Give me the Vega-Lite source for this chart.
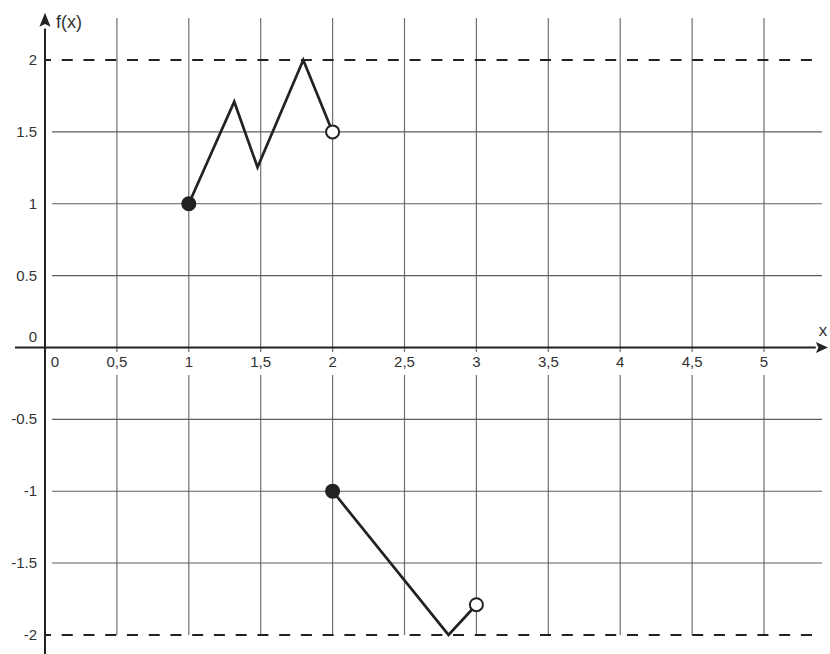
{
  "$schema": "https://vega.github.io/schema/vega-lite/v6.json",
  "width": 785,
  "height": 654,
  "autosize": "none",
  "padding": {"left": 45, "top": 0, "right": 0, "bottom": 0},
  "background": "white",
  "config": {"view": {"stroke": null}, "font": "Liberation Sans"},
  "datasets": {
    "curve": [
      {"x": 1, "y": 1, "part": "a"},
      {"x": 1.316, "y": 1.71, "part": "a"},
      {"x": 1.478, "y": 1.254, "part": "a"},
      {"x": 1.796, "y": 2, "part": "a"},
      {"x": 2, "y": 1.5, "part": "a"},
      {"x": 2, "y": -1, "part": "b"},
      {"x": 2.806, "y": -2, "part": "b"},
      {"x": 3, "y": -1.79, "part": "b"}
    ],
    "dots": [
      {"x": 1, "y": 1, "kind": "closed"},
      {"x": 2, "y": 1.5, "kind": "open"},
      {"x": 2, "y": -1, "kind": "closed"},
      {"x": 3, "y": -1.79, "kind": "open"}
    ],
    "vgrid": [
      {"x": 0.5}, {"x": 1}, {"x": 1.5}, {"x": 2}, {"x": 2.5},
      {"x": 3}, {"x": 3.5}, {"x": 4}, {"x": 4.5}, {"x": 5}
    ],
    "hgrid": [
      {"y": -1.5}, {"y": -1}, {"y": -0.5}, {"y": 0.5}, {"y": 1}, {"y": 1.5}
    ],
    "xticks": [
      {"x": 0.5, "label": "0,5"}, {"x": 1, "label": "1"}, {"x": 1.5, "label": "1,5"},
      {"x": 2, "label": "2"}, {"x": 2.5, "label": "2,5"}, {"x": 3, "label": "3"},
      {"x": 3.5, "label": "3,5"}, {"x": 4, "label": "4"}, {"x": 4.5, "label": "4,5"},
      {"x": 5, "label": "5"}
    ],
    "yticks": [
      {"y": 2, "label": "2"}, {"y": 1.5, "label": "1.5"}, {"y": 1, "label": "1"},
      {"y": 0.5, "label": "0.5"}, {"y": -0.5, "label": "-0.5"}, {"y": -1, "label": "-1"},
      {"y": -1.5, "label": "-1.5"}, {"y": -2, "label": "-2"}
    ],
    "bounds": [{"y": 2}, {"y": -2}],
    "one": [{"id": 1}]
  },
  "layer": [
    {
      "data": {"name": "vgrid"},
      "mark": {"type": "rule", "color": "#707070", "strokeWidth": 1.2},
      "encoding": {
        "x": {"field": "x", "type": "quantitative", "scale": {"domain": [0, 5.459], "nice": false, "zero": false}, "axis": null},
        "y": {"datum": 2.293, "scale": {"domain": [-2.133, 2.418], "nice": false, "zero": false}, "axis": null},
        "y2": {"datum": -0.031}
      }
    },
    {
      "data": {"name": "vgrid"},
      "mark": {"type": "rule", "color": "#707070", "strokeWidth": 1.2},
      "encoding": {
        "x": {"field": "x", "type": "quantitative", "scale": {"domain": [0, 5.459], "nice": false, "zero": false}, "axis": null},
        "y": {"datum": -0.191, "scale": {"domain": [-2.133, 2.418], "nice": false, "zero": false}, "axis": null},
        "y2": {"datum": -2}
      }
    },
    {
      "data": {"name": "hgrid"},
      "mark": {"type": "rule", "color": "#5e5e5e", "strokeWidth": 1.1},
      "encoding": {
        "y": {"field": "y", "type": "quantitative", "scale": {"domain": [-2.133, 2.418], "nice": false, "zero": false}, "axis": null},
        "x": {"datum": 0.049, "scale": {"domain": [0, 5.459], "nice": false, "zero": false}, "axis": null},
        "x2": {"datum": 5.403}
      }
    },
    {
      "data": {"name": "bounds"},
      "mark": {"type": "rule", "color": "#222222", "strokeWidth": 2, "strokeDash": [11, 10.74], "strokeDashOffset": 5},
      "encoding": {
        "y": {"field": "y", "type": "quantitative", "scale": {"domain": [-2.133, 2.418], "nice": false, "zero": false}, "axis": null},
        "x": {"datum": 0, "scale": {"domain": [0, 5.459], "nice": false, "zero": false}, "axis": null},
        "x2": {"datum": 5.334}
      }
    },
    {
      "data": {"name": "one"},
      "mark": {"type": "rule", "color": "#222222", "strokeWidth": 2},
      "encoding": {
        "x": {"datum": 0, "scale": {"domain": [0, 5.459], "nice": false, "zero": false}, "axis": null},
        "y": {"datum": -2.133, "scale": {"domain": [-2.133, 2.418], "nice": false, "zero": false}, "axis": null},
        "y2": {"datum": 2.22}
      }
    },
    {
      "data": {"name": "one"},
      "mark": {"type": "rule", "color": "#222222", "strokeWidth": 2},
      "encoding": {
        "y": {"datum": 0, "scale": {"domain": [-2.133, 2.418], "nice": false, "zero": false}, "axis": null},
        "x": {"datum": -0.209, "scale": {"domain": [0, 5.459], "nice": false, "zero": false}, "axis": null},
        "x2": {"datum": 5.36}
      }
    },
    {
      "data": {"name": "one"},
      "mark": {"type": "point", "shape": "M0,-1L0.8,1L0,0.6L-0.8,1Z", "filled": true, "color": "#222222", "size": 196, "opacity": 1},
      "encoding": {
        "x": {"datum": 0, "scale": {"domain": [0, 5.459], "nice": false, "zero": false}, "axis": null},
        "y": {"datum": 2.281, "scale": {"domain": [-2.133, 2.418], "nice": false, "zero": false}, "axis": null}
      }
    },
    {
      "data": {"name": "one"},
      "mark": {"type": "point", "shape": "M1,0L-1,-0.9L-0.6,0L-1,0.9Z", "filled": true, "color": "#222222", "size": 144, "opacity": 1},
      "encoding": {
        "x": {"datum": 5.403, "scale": {"domain": [0, 5.459], "nice": false, "zero": false}, "axis": null},
        "y": {"datum": 0, "scale": {"domain": [-2.133, 2.418], "nice": false, "zero": false}, "axis": null}
      }
    },
    {
      "data": {"name": "curve"},
      "mark": {"type": "line", "color": "#222222", "strokeWidth": 2.7, "strokeJoin": "miter"},
      "encoding": {
        "x": {"field": "x", "type": "quantitative", "scale": {"domain": [0, 5.459], "nice": false, "zero": false}, "axis": null},
        "y": {"field": "y", "type": "quantitative", "scale": {"domain": [-2.133, 2.418], "nice": false, "zero": false}, "axis": null},
        "detail": {"field": "part", "type": "nominal"}
      }
    },
    {
      "data": {"name": "dots"},
      "mark": {"type": "point", "shape": "circle", "filled": false, "stroke": "#222222", "strokeWidth": 2, "size": 170, "opacity": 1},
      "encoding": {
        "x": {"field": "x", "type": "quantitative", "scale": {"domain": [0, 5.459], "nice": false, "zero": false}, "axis": null},
        "y": {"field": "y", "type": "quantitative", "scale": {"domain": [-2.133, 2.418], "nice": false, "zero": false}, "axis": null},
        "fill": {"field": "kind", "type": "nominal", "scale": {"domain": ["closed", "open"], "range": ["#222222", "#ffffff"]}, "legend": null}
      }
    },
    {
      "data": {"name": "xticks"},
      "mark": {"type": "text", "font": "Liberation Sans", "fontSize": 15, "color": "#333333", "align": "center", "baseline": "top"},
      "encoding": {
        "x": {"field": "x", "type": "quantitative", "scale": {"domain": [0, 5.459], "nice": false, "zero": false}, "axis": null},
        "y": {"datum": -0.0557, "scale": {"domain": [-2.133, 2.418], "nice": false, "zero": false}, "axis": null},
        "text": {"field": "label", "type": "nominal"}
      }
    },
    {
      "data": {"name": "yticks"},
      "mark": {"type": "text", "font": "Liberation Sans", "fontSize": 15, "color": "#333333", "align": "right", "baseline": "middle"},
      "encoding": {
        "y": {"field": "y", "type": "quantitative", "scale": {"domain": [-2.133, 2.418], "nice": false, "zero": false}, "axis": null},
        "x": {"datum": -0.0556, "scale": {"domain": [0, 5.459], "nice": false, "zero": false}, "axis": null},
        "text": {"field": "label", "type": "nominal"}
      }
    },
    {
      "data": {"name": "one"},
      "mark": {"type": "text", "text": "0", "font": "Liberation Sans", "fontSize": 15, "color": "#333333", "align": "right", "baseline": "middle"},
      "encoding": {
        "x": {"datum": -0.0556, "scale": {"domain": [0, 5.459], "nice": false, "zero": false}, "axis": null},
        "y": {"datum": 0.073, "scale": {"domain": [-2.133, 2.418], "nice": false, "zero": false}, "axis": null}
      }
    },
    {
      "data": {"name": "one"},
      "mark": {"type": "text", "text": "0", "font": "Liberation Sans", "fontSize": 15, "color": "#333333", "align": "center", "baseline": "top"},
      "encoding": {
        "x": {"datum": 0.0695, "scale": {"domain": [0, 5.459], "nice": false, "zero": false}, "axis": null},
        "y": {"datum": -0.0557, "scale": {"domain": [-2.133, 2.418], "nice": false, "zero": false}, "axis": null}
      }
    },
    {
      "data": {"name": "one"},
      "mark": {"type": "text", "text": "f(x)", "font": "Liberation Sans", "fontSize": 18, "color": "#333333", "align": "left", "baseline": "alphabetic"},
      "encoding": {
        "x": {"datum": 0.0765, "scale": {"domain": [0, 5.459], "nice": false, "zero": false}, "axis": null},
        "y": {"datum": 2.223, "scale": {"domain": [-2.133, 2.418], "nice": false, "zero": false}, "axis": null}
      }
    },
    {
      "data": {"name": "one"},
      "mark": {"type": "text", "text": "x", "font": "Liberation Sans", "fontSize": 17, "color": "#333333", "align": "center", "baseline": "alphabetic"},
      "encoding": {
        "x": {"datum": 5.41, "scale": {"domain": [0, 5.459], "nice": false, "zero": false}, "axis": null},
        "y": {"datum": 0.08, "scale": {"domain": [-2.133, 2.418], "nice": false, "zero": false}, "axis": null}
      }
    }
  ]
}
